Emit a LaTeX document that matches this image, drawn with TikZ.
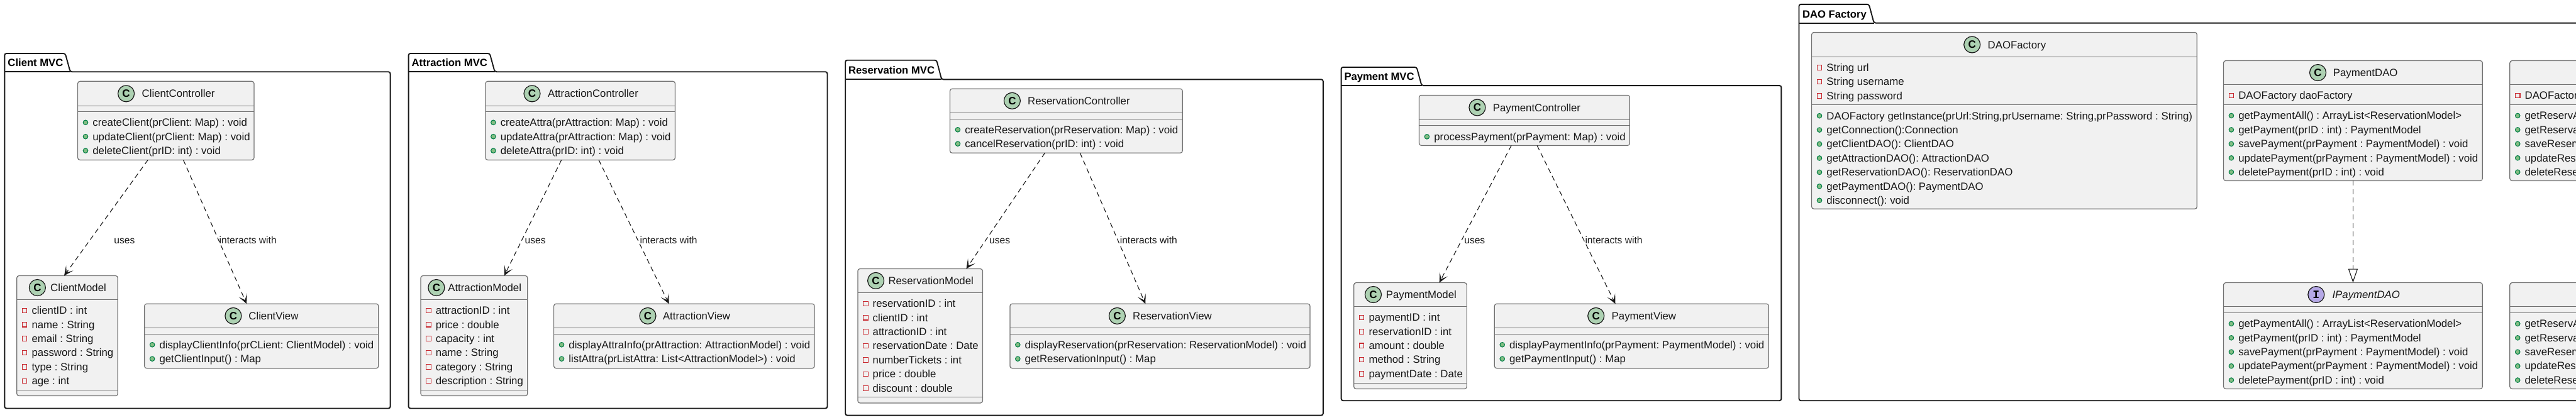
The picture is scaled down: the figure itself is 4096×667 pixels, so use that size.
\documentclass[tikz,border=0pt]{standalone}
\usepackage{fontspec}
\setmainfont{Liberation Sans}
\newfontfamily\monof{Liberation Mono}
\usetikzlibrary{arrows.meta}
\frenchspacing
\definecolor{boxfill}{HTML}{F1F1F1}
\definecolor{boxline}{HTML}{707070}
\definecolor{inkc}{HTML}{181818}
\definecolor{cicon}{HTML}{ADD1B2}
\definecolor{iicon}{HTML}{B4A7E5}
\definecolor{pubfill}{HTML}{84BE84}
\definecolor{publine}{HTML}{038048}
\definecolor{privline}{HTML}{C82930}
\newcommand{\cfont}{\fontsize{16.8}{20}\selectfont}
\tikzset{
  classbox/.style={draw=boxline,fill=boxfill,line width=1.2pt,rounded corners=3.5pt,inner sep=0pt,outer sep=0pt},
  sepline/.style={draw=boxline,line width=1.2pt},
  pkgline/.style={draw=inkc,line width=1.9pt},
  pkgtitle/.style={anchor=base west,inner sep=0pt,font=\fontsize{16.65}{20}\selectfont\bfseries,text=black},
  classtitle/.style={anchor=base west,inner sep=0pt,font=\cfont,text=inkc},
  membertext/.style={anchor=base west,inner sep=0pt,font=\cfont,text=inkc},
  edgelabel/.style={anchor=base west,inner sep=0pt,font=\fontsize{15.6}{18}\selectfont,text=inkc},
  iconc/.style={circle,draw=inkc,line width=1.2pt,fill=cicon,minimum size=26pt,inner sep=0pt,font=\fontsize{17}{20}\selectfont\bfseries},
  iconi/.style={circle,draw=inkc,line width=1.2pt,fill=iicon,minimum size=26pt,inner sep=0pt,font=\fontsize{18}{20}\selectfont\monof\bfseries},
  pub/.style={circle,draw=publine,fill=pubfill,line width=1.1pt,minimum size=7.5pt,inner sep=0pt},
  priv/.style={rectangle,draw=privline,line width=1.1pt,minimum size=7.5pt,inner sep=0pt},
  dep/.style={draw=inkc,line width=1.1pt,dash pattern=on 8pt off 5.5pt,-{Stealth[length=15pt,width=14pt,inset=8.5pt,fill=inkc]}},
  real/.style={draw=inkc,line width=1.1pt,dash pattern=on 8pt off 5.5pt,-{Triangle[open,fill=white,length=22pt,width=15pt]}},
}
% package: id, x1, ytop, titlex, tabR, ybody, x2, ybot, title
\newcommand{\umlpkg}[9]{%
  \pgfmathsetmacro\tabtop{#5-8}%
  \pgfmathsetmacro\tby{#6-8.5}%
  \draw[pkgline,rounded corners=3pt] (#2,#3) -- (\tabtop,#3) -- (#5,#6) -- (#7,#6) -- (#7,#8) -- (#2,#8) -- cycle;
  \draw[pkgline] (#2,#6) -- (#5,#6);
  \node[pkgtitle] (#1) at (#4,\tby) {#9};
}
% class: id, x1, x2, y1, y2, sep1, sep2
\newcommand{\umlbox}[7]{%
  \pgfmathsetmacro\bw{#3-#2}\pgfmathsetmacro\bh{#5-#4}%
  \pgfmathsetmacro\bx{(#2+#3)/2}\pgfmathsetmacro\by{(#4+#5)/2}%
  \node[classbox,minimum width=\bw pt,minimum height=\bh pt] (#1) at (\bx,\by) {};
  \draw[sepline] (#2,#6) -- (#3,#6);
  \draw[sepline] (#2,#7) -- (#3,#7);
}
% header: id, style, letter, iconx, cy, titlex, title
\newcommand{\umlhead}[7]{%
  \pgfmathsetmacro\ty{#5+6}%
  \node[#2] (#1-icon) at (#4,#5) {#3};
  \node[classtitle] (#1-title) at (#6,\ty) {#7};
}
% rows: id, left, first y, pub/priv, list
\newcommand{\umlrows}[5]{%
  \foreach \t [count=\i] in {#5}{%
    \pgfmathsetmacro\ry{#3+(\i-1)*22.42}%
    \pgfmathsetmacro\rb{\ry+5.8}%
    \pgfmathsetmacro\ix{#2+12.4}%
    \pgfmathsetmacro\tx{#2+23.6}%
    \node[#4] (#1-#4\i-icon) at (\ix,\ry) {};
    \node[membertext] (#1-#4\i) at (\tx,\rb) {\t};
  }%
}
\begin{document}
\begin{tikzpicture}[x=1pt,y=-1pt]
\useasboundingbox (0,0) rectangle (4096,667);
\clip (0,0) rectangle (4096,667);
\fill[white] (0,0) rectangle (4096,667);

% ---------- packages
\umlpkg{pkgClient}{7.3}{85}{12.3}{111.7}{114.2}{620.6}{649.5}{Client MVC}
\umlpkg{pkgAttraction}{649.6}{85}{654.5}{786.7}{114.2}{1315.5}{649.5}{Attraction MVC}
\umlpkg{pkgReservation}{1344.2}{95.7}{1348.9}{1497.2}{126.3}{2103.8}{660.6}{Reservation MVC}
\umlpkg{pkgPayment}{2132.6}{106.8}{2137.3}{2260.5}{136.1}{2832.4}{637.2}{Payment MVC}
\umlpkg{pkgDAO}{2860.5}{6.8}{2865.9}{2979.7}{36.6}{4110}{637.2}{DAO Factory}

% ---------- Client MVC
\umlbox{ClientController}{123.6}{404}{129.3}{254.4}{168.4}{177.4}
\umlhead{ClientController}{iconc}{C}{200.6}{148.9}{225.5}{ClientController}
\umlrows{ClientController}{123.6}{194.8}{pub}{createClient(prClient: Map) : void,updateClient(prClient: Map) : void,deleteClient(prID: int) : void}
\umlbox{ClientModel}{26.7}{187.3}{438.5}{629.5}{476.4}{620.6}
\umlhead{ClientModel}{iconc}{C}{59.4}{457.5}{80}{ClientModel}
\umlrows{ClientModel}{26.7}{493.8}{priv}{clientID : int,name : String,email : String,password : String,type : String,age : int}
\umlbox{ClientView}{229.7}{601.8}{483.2}{585.7}{521.5}{531.3}
\umlhead{ClientView}{iconc}{C}{370.9}{502.4}{395.2}{ClientView}
\umlrows{ClientView}{229.7}{548.3}{pub}{displayClientInfo(prCLient: ClientModel) : void,getClientInput() : Map}

% ---------- Attraction MVC
\umlbox{AttractionController}{772}{1073.5}{129.3}{254.4}{168.4}{177.4}
\umlhead{AttractionController}{iconc}{C}{846}{148.9}{870.9}{AttractionController}
\umlrows{AttractionController}{772}{194.8}{pub}{createAttra(prAttraction: Map) : void,updateAttra(prAttraction: Map) : void,deleteAttra(prID: int) : void}
\umlbox{AttractionModel}{669}{838.8}{438.5}{629.5}{476.4}{620.6}
\umlhead{AttractionModel}{iconc}{C}{693.9}{457.5}{712.1}{AttractionModel}
\umlrows{AttractionModel}{669}{493.8}{priv}{attractionID : int,price : double,capacity : int,name : String,category : String,description : String}
\umlbox{AttractionView}{880.6}{1295}{483.2}{585.7}{521.5}{531.3}
\umlhead{AttractionView}{iconc}{C}{1030}{502.4}{1053.8}{AttractionView}
\umlrows{AttractionView}{880.6}{548.3}{pub}{displayAttraInfo(prAttraction: AttractionModel) : void,listAttra(prListAttra: List<AttractionModel>) : void}

% ---------- Reservation MVC
\umlbox{ReservationController}{1510.5}{1880.2}{141.2}{243.3}{179.5}{189.3}
\umlhead{ReservationController}{iconc}{C}{1609.4}{160.3}{1634}{ReservationController}
\umlrows{ReservationController}{1510.5}{206.3}{pub}{createReservation(prReservation: Map) : void,cancelReservation(prID: int) : void}
\umlbox{ReservationModel}{1363.9}{1562.4}{427.5}{641}{465.3}{631.6}
\umlhead{ReservationModel}{iconc}{C}{1392.6}{446.4}{1412.3}{ReservationModel}
\umlrows{ReservationModel}{1363.9}{482.8}{priv}{reservationID : int,clientID : int,attractionID : int,reservationDate : Date,numberTickets : int,price : double,discount : double}
\umlbox{ReservationView}{1605.9}{2083}{483.2}{585.7}{521.5}{531.3}
\umlhead{ReservationView}{iconc}{C}{1776.4}{502.4}{1800.9}{ReservationView}
\umlrows{ReservationView}{1605.9}{548.3}{pub}{displayReservation(prReservation: ReservationModel) : void,getReservationInput() : Map}

% ---------- Payment MVC
\umlbox{PaymentController}{2256.5}{2591.3}{151.4}{231.4}{190.6}{199.5}
\umlhead{PaymentController}{iconc}{C}{2348.9}{171}{2373.7}{PaymentController}
\umlrows{PaymentController}{2256.5}{217.4}{pub}{processPayment(prPayment: Map) : void}
\umlbox{PaymentModel}{2152.7}{2332.1}{449.6}{618.5}{487.4}{609.5}
\umlhead{PaymentModel}{iconc}{C}{2183.5}{468.5}{2203.6}{PaymentModel}
\umlrows{PaymentModel}{2152.7}{504.9}{priv}{paymentID : int,reservationID : int,amount : double,method : String,paymentDate : Date}
\umlbox{PaymentView}{2376.3}{2812.3}{483.2}{585.7}{521.5}{531.3}
\umlhead{PaymentView}{iconc}{C}{2537.7}{502.4}{2562.5}{PaymentView}
\umlrows{PaymentView}{2376.3}{548.3}{pub}{displayPaymentInfo(prPayment: PaymentModel) : void,getPaymentInput() : Map}

% ---------- DAO Factory
\umlbox{DAOFactory}{2880.6}{3493.3}{51.5}{332.2}{90.6}{166.3}
\umlhead{DAOFactory}{iconc}{C}{3135.7}{71}{3160.5}{DAOFactory}
\umlrows{DAOFactory}{2880.6}{107.6}{priv}{String url,String username,String password}
\umlrows{DAOFactory}{2880.6}{184.2}{pub}{{DAOFactory getInstance(prUrl:String,prUsername: String,prPassword : String)},getConnection():Connection,getClientDAO(): ClientDAO,getAttractionDAO(): AttractionDAO,getReservationDAO(): ReservationDAO,getPaymentDAO(): PaymentDAO,disconnect(): void}
\umlbox{PaymentDAO}{3535.5}{3947.3}{96.5}{287.4}{134.4}{166.7}
\umlhead{PaymentDAO}{iconc}{C}{3685.5}{115.5}{3709.6}{PaymentDAO}
\umlrows{PaymentDAO}{3535.5}{151.9}{priv}{DAOFactory daoFactory}
\umlrows{PaymentDAO}{3535.5}{184}{pub}{getPaymentAll() : ArrayList<ReservationModel>,getPayment(prID : int) : PaymentModel,savePayment(prPayment : PaymentModel) : void,updatePayment(prPayment : PaymentModel) : void,deletePayment(prID : int) : void}
\umlbox{IPaymentDAO}{3535.5}{3947.3}{449.6}{618.4}{487.4}{497.3}
\umlhead{IPaymentDAO}{iconi}{I}{3682.8}{468.5}{3708.3}{\itshape IPaymentDAO}
\umlrows{IPaymentDAO}{3535.5}{514.9}{pub}{getPaymentAll() : ArrayList<ReservationModel>,getPayment(prID : int) : PaymentModel,savePayment(prPayment : PaymentModel) : void,updatePayment(prPayment : PaymentModel) : void,deletePayment(prID : int) : void}
\umlbox{ReservationDAO}{3990.8}{4110}{96.5}{287.4}{134.4}{166.7}
\umlrows{ReservationDAO}{3990.8}{151.9}{priv}{DAOFactor}
\umlrows{ReservationDAO}{3990.8}{184}{pub}{getReservA,getReserva,saveReserv,updateRes,deleteRese}
\umlbox{IReservationDAO}{3990.8}{4110}{449.6}{618.4}{487.4}{497.3}
\umlrows{IReservationDAO}{3990.8}{514.9}{pub}{getReservA,getReserva,saveReserv,updateRes,deleteRese}

% ---------- connectors
\draw[dep] ([xshift=-28.6pt]ClientController.south) -- ([xshift=-5pt]ClientModel.north);
\draw[dep] ([xshift=27.7pt]ClientController.south) -- ([xshift=-23.6pt]ClientView.north);
\draw[dep] ([xshift=-30pt]AttractionController.south) -- ([xshift=47.9pt]AttractionModel.north);
\draw[dep] ([xshift=29.3pt]AttractionController.south) -- ([xshift=-24.2pt]AttractionView.north);
\draw[dep] ([xshift=-34pt]ReservationController.south) -- ([xshift=73.3pt]ReservationModel.north);
\draw[dep] ([xshift=22pt]ReservationController.south) -- ([xshift=-23.2pt]ReservationView.north);
\draw[dep] ([xshift=-20.8pt]PaymentController.south) -- ([xshift=46.2pt]PaymentModel.north);
\draw[dep] ([xshift=20.1pt]PaymentController.south) -- ([xshift=-25.8pt]PaymentView.north);
\draw[real] (PaymentDAO.south) -- (IPaymentDAO.north);

% ---------- connector labels
\node[edgelabel] (lblClientUses) at (181.2,387) {uses};
\node[edgelabel] (lblClientView) at (348.5,387) {interacts with};
\node[edgelabel] (lblAttractionUses) at (834.5,387) {uses};
\node[edgelabel] (lblAttractionView) at (1017.3,387) {interacts with};
\node[edgelabel] (lblReservationUses) at (1573,387) {uses};
\node[edgelabel] (lblReservationView) at (1780.6,387) {interacts with};
\node[edgelabel] (lblPaymentUses) at (2328.1,387) {uses};
\node[edgelabel] (lblPaymentView) at (2520.3,387) {interacts with};
\end{tikzpicture}
\end{document}
